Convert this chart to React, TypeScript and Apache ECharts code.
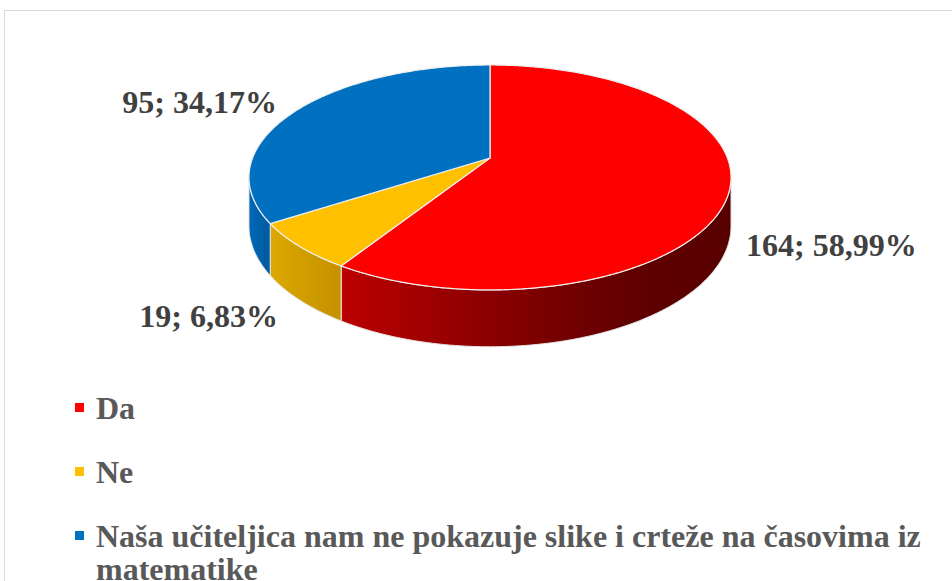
import React, { useEffect, useRef } from "react";
import * as echarts from "echarts";

// ---- data ----
const categories: string[] = [
  "Da",
  "Ne",
  "Naša učiteljica nam ne pokazuje slike i crteže na časovima iz matematike",
];
const counts: number[] = [164, 19, 95];

// ---- styles / layout ----
const topColors = ["#FF0000", "#FFC000", "#0070C0"];
const sideStops: [number, string][][] = [
  [[0, "#BC0000"], [0.35, "#8E0000"], [0.75, "#600000"], [1, "#580000"]],
  [[0, "#DCA800"], [1, "#C49100"]],
  [[0, "#0068B6"], [1, "#005A9E"]],
];
const labelLayout = [
  { x: 746, y: 245, align: "left" },
  { x: 278, y: 316, align: "right" },
  { x: 277, y: 102, align: "right" },
];
const PIE = { cx: 490, cy: 158, a: 109.1, b: 237.4, k: 0.173, h: 47 };
const FONT_FAMILY = "Liberation Serif";
const FONT_SIZE = 32;
const LEGEND_WIDTH = 850;

function project(phi: number, down: number): number[] {
  const x = Math.sin(phi);
  const z = Math.cos(phi);
  const w = 1 + PIE.k * z;
  return [PIE.cx + (PIE.b * x) / w, PIE.cy - (PIE.a * z) / w + (PIE.h * down) / w];
}

function arc(p0: number, p1: number, down: number): number[][] {
  const steps = Math.max(2, Math.ceil((p1 - p0) / (Math.PI / 360)));
  const pts: number[][] = [];
  for (let s = 0; s <= steps; s++) {
    pts.push(project(p0 + ((p1 - p0) * s) / steps, down));
  }
  return pts;
}

function fmtPct(v: number): string {
  return v.toFixed(2).replace(".", ",") + "%";
}

function wrapText(text: string, maxWidth: number): string {
  const canvas = document.createElement("canvas");
  const ctx = canvas.getContext("2d");
  if (!ctx) return text;
  ctx.font = `bold ${FONT_SIZE}px "${FONT_FAMILY}"`;
  const words = text.split(" ");
  const lines: string[] = [];
  let cur = "";
  for (const w of words) {
    const test = cur ? cur + " " + w : w;
    if (cur && ctx.measureText(test).width > maxWidth) {
      lines.push(cur);
      cur = w;
    } else {
      cur = test;
    }
  }
  if (cur) lines.push(cur);
  return lines.join("\n");
}

export default function App() {
  const ref = useRef<HTMLDivElement>(null);

  useEffect(() => {
    if (!ref.current) return;
    const chart = echarts.init(ref.current, undefined, { renderer: "svg" });
    const total = counts.reduce((s, v) => s + v, 0);

    const renderItem = (params: any, api: any) => {
      const i = params.dataIndex;
      const value = api.value(0) as number;
      let before = 0;
      for (let j = 0; j < i; j++) before += counts[j];
      const start = (before / total) * Math.PI * 2;
      const end = start + (value / total) * Math.PI * 2;
      const children: any[] = [];

      // top face
      children.push({
        type: "polygon",
        z2: 10,
        shape: { points: [[PIE.cx, PIE.cy], ...arc(start, end, 0)] },
        style: { fill: topColors[i], stroke: "#EFEFEF", lineWidth: 1.2 },
      });

      // visible side wall
      const vis0 = Math.acos(-PIE.k);
      const vis1 = Math.PI * 2 - vis0;
      const a = Math.max(start, vis0);
      const b = Math.min(end, vis1);
      if (b > a) {
        const pts = arc(a, b, 0).concat(arc(a, b, 1).reverse());
        children.push({
          type: "polygon",
          z2: 1,
          shape: { points: pts },
          style: {
            fill: new echarts.graphic.LinearGradient(
              0, 0, 1, 0,
              sideStops[i].map(([o, c]) => ({ offset: o, color: c }))
            ),
            stroke: "#E6E6E6",
            lineWidth: 1,
          },
        });
      }

      // data label
      const L = labelLayout[i];
      children.push({
        type: "text",
        z2: 20,
        x: L.x,
        y: L.y,
        style: {
          text: `${value}; ${fmtPct((value / total) * 100)}`,
          fill: "#404040",
          fontFamily: FONT_FAMILY,
          fontWeight: "bold",
          fontSize: FONT_SIZE,
          align: L.align,
          verticalAlign: "middle",
        },
      });

      return { type: "group", children };
    };

    const legendTops = [391, 455, 519];
    const legendGraphics: any[] = [];
    categories.forEach((name, i) => {
      legendGraphics.push({
        type: "rect",
        left: 75,
        top: legendTops[i] + 12,
        shape: { width: 9, height: 9 },
        style: { fill: topColors[i] },
      });
      legendGraphics.push({
        type: "text",
        x: 96,
        y: legendTops[i],
        style: {
          text: wrapText(name, LEGEND_WIDTH),
          fill: "#595959",
          fontFamily: FONT_FAMILY,
          fontWeight: "bold",
          fontSize: FONT_SIZE,
          lineHeight: 33,
          verticalAlign: "top",
        },
      });
    });

    chart.setOption({
      animation: false,
      backgroundColor: "#FFFFFF",
      graphic: [
        {
          type: "rect",
          shape: { x: 4.5, y: 10.5, width: 1000, height: 1000 },
          style: { fill: "none", stroke: "#D9D9D9", lineWidth: 1 },
          z: 0,
        },
        ...legendGraphics,
      ],
      series: [
        {
          type: "custom",
          coordinateSystem: "none",
          renderItem,
          data: counts.map((v, i) => ({ name: categories[i], value: [v] })),
        },
      ],
    });

    return () => chart.dispose();
  }, []);

  return (
    <div
      ref={ref}
      style={{ position: "fixed", left: 0, top: 0, width: 952, height: 581 }}
    />
  );
}
